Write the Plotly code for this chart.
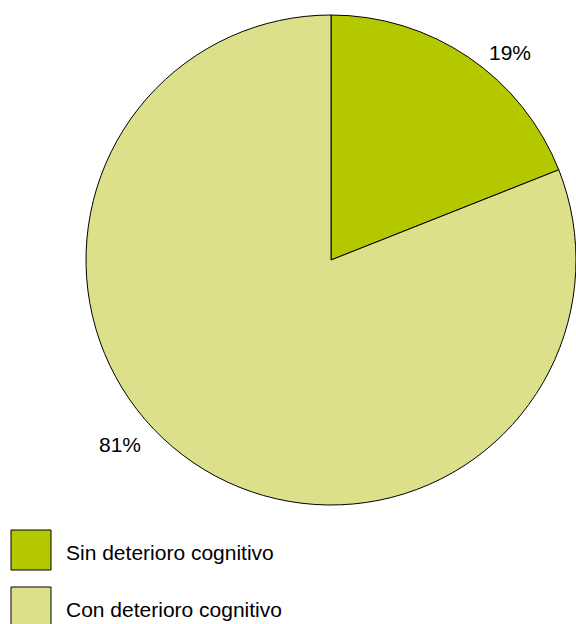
import plotly.graph_objects as go

categories = ["Sin deterioro cognitivo", "Con deterioro cognitivo"]
values = [19, 81]
colors = ["#B4C800", "#DCE08A"]
label_texts = [f"{v}%" for v in values]

W, H = 576, 624
FONT = "Liberation Sans, Arial, Helvetica, sans-serif"

fig = go.Figure()
fig.add_trace(go.Pie(
    labels=categories,
    values=values,
    sort=False,
    direction="clockwise",
    rotation=0,
    marker=dict(colors=colors, line=dict(color="black", width=1)),
    textinfo="none",
    hoverinfo="label+percent",
    showlegend=False,
    domain=dict(x=[86 / W, 1.0], y=[1 - 506 / H, 1 - 14 / H]),
))

# percentage labels
label_pos = [(510 / W, 1 - 52 / H), (120 / W, 1 - 444 / H)]
annotations = []
for txt, (px, py) in zip(label_texts, label_pos):
    annotations.append(dict(x=px, y=py, xref="paper", yref="paper", text=txt,
                            showarrow=False, xanchor="center", yanchor="middle",
                            font=dict(family=FONT, size=21, color="black")))

# custom legend with large swatches
shapes = []
legend_tops = [530, 587]
for cat, col, top in zip(categories, colors, legend_tops):
    shapes.append(dict(type="rect", xref="paper", yref="paper",
                       x0=11 / W, x1=51 / W, y0=1 - (top + 40) / H, y1=1 - top / H,
                       fillcolor=col, line=dict(color="black", width=1)))
    annotations.append(dict(x=64 / W, y=1 - (top + 22) / H, xref="paper", yref="paper",
                            text=cat, showarrow=False, xanchor="left", yanchor="middle",
                            font=dict(family=FONT, size=21, color="black")))

fig.update_layout(
    width=W, height=H,
    margin=dict(l=0, r=0, t=0, b=0),
    paper_bgcolor="white", plot_bgcolor="white",
    annotations=annotations, shapes=shapes,
)

fig.write_html("out.html",
               config={"displayModeBar": False},
               post_script="document.body.style.margin='0';document.body.style.overflow='hidden';")
